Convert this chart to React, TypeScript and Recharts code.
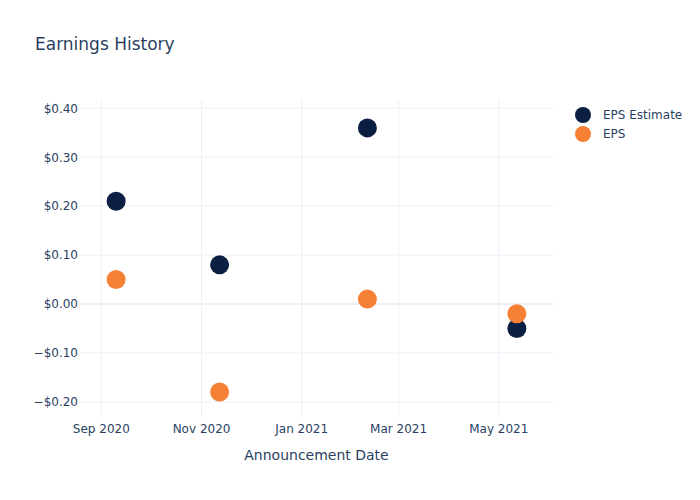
import {
  ScatterChart,
  Scatter,
  XAxis,
  YAxis,
  CartesianGrid,
  ReferenceLine,
} from "recharts";

const announcementDates = ["2020-09-10", "2020-11-12", "2021-02-10", "2021-05-12"];
const epsEstimate = [0.21, 0.08, 0.36, -0.05];
const epsActual = [0.05, -0.18, 0.01, -0.02];
const monthTicks = ["2020-09-01", "2020-11-01", "2021-01-01", "2021-03-01", "2021-05-01"];
const valueTicks = [-0.2, -0.1, 0, 0.1, 0.2, 0.3, 0.4];
const seriesNames = ["EPS Estimate", "EPS"];

const NAVY = "#0b1f42";
const ORANGE = "#f68136";
const TEXT = "#2a3f5f";
const GRID = "#ebf0f8";
const FONT = '"DejaVu Sans", verdana, arial, sans-serif';

const MONTHS = ["Jan", "Feb", "Mar", "Apr", "May", "Jun", "Jul", "Aug", "Sep", "Oct", "Nov", "Dec"];

const toTime = (d: string) => new Date(d + "T00:00:00Z").getTime();

const estimateData = announcementDates.map((d, i) => ({ t: toTime(d), v: epsEstimate[i] }));
const actualData = announcementDates.map((d, i) => ({ t: toTime(d), v: epsActual[i] }));

const fmtMonth = (t: number) => {
  const d = new Date(t);
  return `${MONTHS[d.getUTCMonth()]} ${d.getUTCFullYear()}`;
};

const fmtMoney = (v: number) =>
  v < 0 ? `\u2212$${Math.abs(v).toFixed(2)}` : `$${v.toFixed(2)}`;

const dot = (color: string) => (props: any) => (
  <circle cx={props.cx} cy={props.cy} r={9.5} fill={color} />
);

// grid only at the tick values, no lines along the plot edges
const hLines = ({ yAxis }: any) => {
  const s = yAxis && yAxis.scale;
  if (!s) return [];
  const f = typeof s === "function" ? s : s.map ? (v: number) => s.map(v) : null;
  return f ? valueTicks.map((v) => f(v)) : [];
};
const vLines = ({ xAxis }: any) => {
  const s = xAxis && xAxis.scale;
  if (!s) return [];
  const f = typeof s === "function" ? s : s.map ? (v: number) => s.map(v) : null;
  return f ? monthTicks.map((d) => f(toTime(d))) : [];
};

export default function App() {
  const colors = [NAVY, ORANGE];
  return (
    <div
      style={{
        position: "absolute",
        left: 0,
        top: 0,
        width: 700,
        height: 500,
        background: "#fff",
        fontFamily: FONT,
        color: TEXT,
      }}
    >
      <div style={{ position: "absolute", left: 35, top: 34, fontSize: 17 }}>
        Earnings History
      </div>
      <div style={{ position: "absolute", left: 575, top: 105, fontSize: 12 }}>
        {seriesNames.map((name, i) => (
          <div key={name} style={{ display: "flex", alignItems: "center", height: 19 }}>
            <span
              style={{
                display: "inline-block",
                width: 16,
                height: 16,
                borderRadius: 8,
                background: colors[i],
                marginRight: 12,
              }}
            />
            {name}
          </div>
        ))}
      </div>
      <div
        style={{
          position: "absolute",
          left: 80,
          width: 473,
          top: 447,
          textAlign: "center",
          fontSize: 14,
        }}
      >
        Announcement Date
      </div>
      <ScatterChart
        width={700}
        height={500}
        margin={{ top: 100, right: 147, bottom: 0, left: 0 }}
      >
        <CartesianGrid
          stroke={GRID}
          horizontalCoordinatesGenerator={hLines}
          verticalCoordinatesGenerator={vLines}
        />
        <XAxis
          type="number"
          dataKey="t"
          domain={[toTime("2020-08-19"), toTime("2021-06-03")]}
          ticks={monthTicks.map(toTime)}
          tickFormatter={fmtMonth}
          axisLine={false}
          tickLine={false}
          tickSize={0}
          tickMargin={6}
          height={82}
          allowDataOverflow
          tick={{ fill: TEXT, fontSize: 12, fontFamily: FONT }}
        />
        <YAxis
          type="number"
          dataKey="v"
          domain={[-0.233, 0.417]}
          ticks={valueTicks}
          tickFormatter={fmtMoney}
          axisLine={false}
          tickLine={false}
          tickSize={0}
          tickMargin={2}
          width={80}
          allowDataOverflow
          tick={{ fill: TEXT, fontSize: 12, fontFamily: FONT }}
        />
        <ReferenceLine y={0} stroke={GRID} strokeWidth={2} />
        <Scatter
          name={seriesNames[0]}
          data={estimateData}
          fill={NAVY}
          shape={dot(NAVY)}
          isAnimationActive={false}
        />
        <Scatter
          name={seriesNames[1]}
          data={actualData}
          fill={ORANGE}
          shape={dot(ORANGE)}
          isAnimationActive={false}
        />
      </ScatterChart>
    </div>
  );
}
